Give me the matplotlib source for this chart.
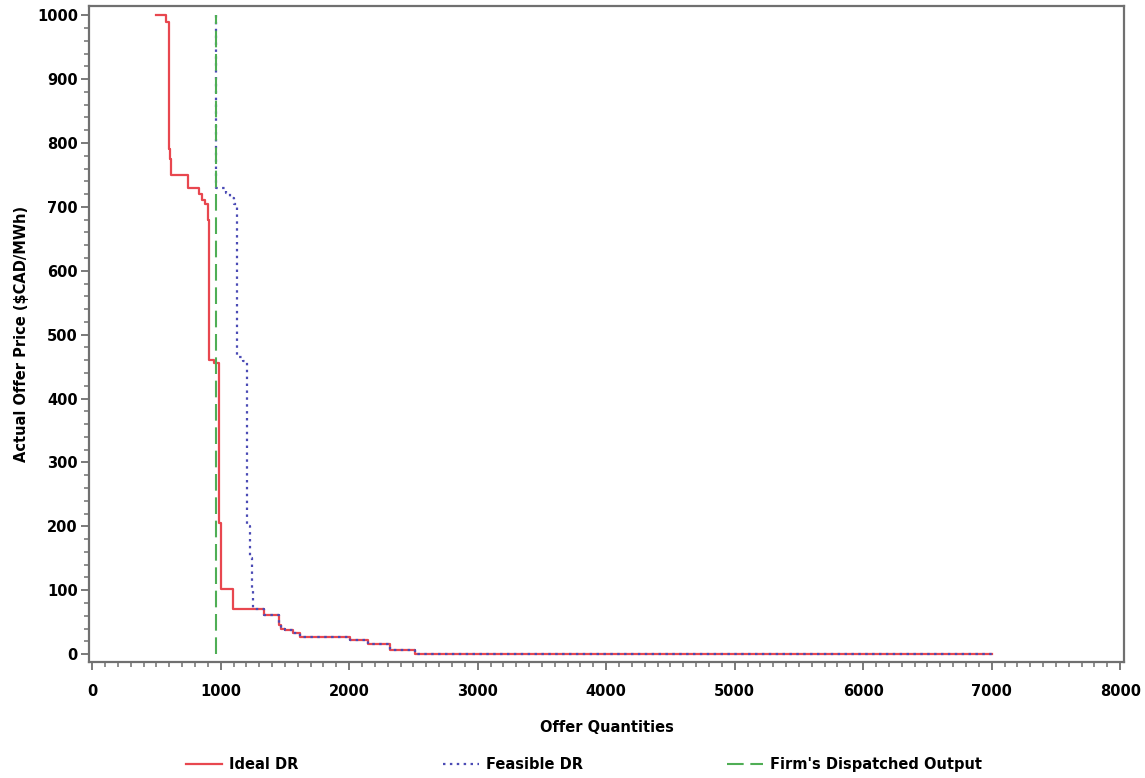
import matplotlib
matplotlib.use("Agg")
import matplotlib.pyplot as plt
from matplotlib.ticker import MultipleLocator

plt.rcParams['font.family'] = ['DejaVu Sans']
plt.rcParams['font.weight'] = 'bold'
plt.rcParams['font.size'] = 10.5

# step curves: price holds from each quantity until the next one
ideal_q = [500, 575, 600, 608, 615, 745, 830, 855, 880, 900, 912, 945, 985, 1002,
           1095, 1340, 1455, 1470, 1500, 1560, 1620, 2005, 2150, 2320, 2510, 7000]
ideal_p = [1000, 990, 790, 775, 750, 730, 720, 710, 705, 680, 460, 455, 205, 102,
           71, 61, 45, 40, 37, 33, 27, 22, 16, 6, 0, 0]

feasible_q = [965, 965, 1045, 1075, 1100, 1125, 1170, 1205, 1225, 1240, 1250,
              1340, 1455, 1470, 1500, 1560, 1620, 2005, 2150, 2320, 2510, 7000]
feasible_p = [1000, 730, 722, 714, 705, 465, 458, 200, 150, 103, 71,
              61, 45, 40, 37, 33, 27, 22, 16, 6, 0, 0]

dispatched_q = 965
dispatched_p = [0, 1000]

fig = plt.figure(figsize=(11.45, 7.78), dpi=100)
ax = fig.add_axes([0.0777, 0.149, 0.904, 0.843])

ax.plot(ideal_q, ideal_p, drawstyle='steps-post', color='#e8474f', lw=1.6,
        label='Ideal DR')
ax.plot(feasible_q, feasible_p, drawstyle='steps-post', color='#4b4bb5', lw=1.6,
        linestyle=(0, (1.1, 2.0)), label='Feasible DR')
ax.plot([dispatched_q, dispatched_q], dispatched_p, color='#4fae55', lw=1.5,
        linestyle=(0, (8, 3.2)), label="Firm's Dispatched Output")

ax.set_xlim(-25, 8030)
ax.set_ylim(-12.5, 1014)
ax.xaxis.set_major_locator(MultipleLocator(1000))
ax.xaxis.set_minor_locator(MultipleLocator(100))
ax.yaxis.set_major_locator(MultipleLocator(100))
ax.yaxis.set_minor_locator(MultipleLocator(20))

for s in ax.spines.values():
    s.set_color('#707070')
    s.set_linewidth(1.6)
ax.tick_params(which='major', length=6, width=1.3, color='#707070', labelsize=10.5)
ax.tick_params(which='minor', length=3.5, width=1.1, color='#707070')
ax.tick_params(axis='x', pad=10)
ax.tick_params(axis='y', pad=2)

ax.set_xlabel('Offer Quantities', fontweight='bold', labelpad=15)
ax.set_ylabel('Actual Offer Price ($CAD/MWh)', fontweight='bold', labelpad=6)

fig.legend(loc='center', bbox_to_anchor=(0.51, 0.017), ncol=3, frameon=False,
           handlelength=2.5, handletextpad=0.45, columnspacing=9.9)

fig.savefig('out.png', dpi=100)
